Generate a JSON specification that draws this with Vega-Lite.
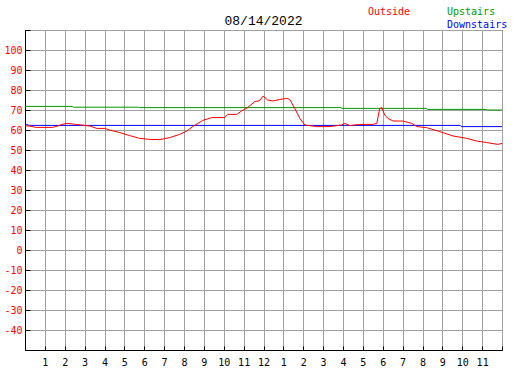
{
  "$schema": "https://vega.github.io/schema/vega-lite/v6.json",
  "width": 477,
  "height": 320,
  "autosize": {"type": "none"},
  "padding": {"left": 25, "top": 30, "right": 25, "bottom": 20},
  "background": "white",
  "title": {"text": "08/14/2022", "font": "Liberation Mono", "fontSize": 13, "fontWeight": "normal", "color": "black", "anchor": "middle", "baseline": "alphabetic", "offset": -31},
  "config": {
    "view": {"stroke": "black", "strokeWidth": 1},
    "axis": {"labelFont": "DejaVu Sans Mono", "labelFontSize": 10, "gridColor": "#a0a0a0", "gridOpacity": 1, "gridWidth": 1, "domainColor": "black", "tickColor": "black", "title": null, "labelFlush": false, "labelOverlap": false}
  },
  "datasets": {
    "indoor": [
      {"hour": 0, "temp": 71.8, "series": "Upstairs"},
      {"hour": 2.4, "temp": 71.8, "series": "Upstairs"},
      {"hour": 2.45, "temp": 71.4, "series": "Upstairs"},
      {"hour": 5.7, "temp": 71.4, "series": "Upstairs"},
      {"hour": 5.75, "temp": 71.2, "series": "Upstairs"},
      {"hour": 15.9, "temp": 71.2, "series": "Upstairs"},
      {"hour": 15.95, "temp": 70.8, "series": "Upstairs"},
      {"hour": 20.2, "temp": 70.8, "series": "Upstairs"},
      {"hour": 20.25, "temp": 70.3, "series": "Upstairs"},
      {"hour": 23.2, "temp": 70.3, "series": "Upstairs"},
      {"hour": 23.25, "temp": 70.0, "series": "Upstairs"},
      {"hour": 24, "temp": 70.0, "series": "Upstairs"},
      {"hour": 0, "temp": 62.3, "series": "Downstairs"},
      {"hour": 0.1, "temp": 62.8, "series": "Downstairs"},
      {"hour": 0.2, "temp": 62.3, "series": "Downstairs"},
      {"hour": 21.9, "temp": 62.3, "series": "Downstairs"},
      {"hour": 21.95, "temp": 61.7, "series": "Downstairs"},
      {"hour": 24, "temp": 61.7, "series": "Downstairs"}
    ],
    "outside": [
      {"hour": 0.0, "temp": 62.0, "series": "Outside"},
      {"hour": 0.24, "temp": 62.0, "series": "Outside"},
      {"hour": 0.54, "temp": 61.3, "series": "Outside"},
      {"hour": 1.39, "temp": 61.3, "series": "Outside"},
      {"hour": 1.65, "temp": 62.0, "series": "Outside"},
      {"hour": 1.85, "temp": 62.8, "series": "Outside"},
      {"hour": 2.15, "temp": 63.3, "series": "Outside"},
      {"hour": 2.55, "temp": 62.8, "series": "Outside"},
      {"hour": 3.26, "temp": 62.0, "series": "Outside"},
      {"hour": 3.61, "temp": 60.8, "series": "Outside"},
      {"hour": 4.01, "temp": 60.8, "series": "Outside"},
      {"hour": 4.26, "temp": 60.0, "series": "Outside"},
      {"hour": 4.77, "temp": 58.7, "series": "Outside"},
      {"hour": 5.27, "temp": 57.2, "series": "Outside"},
      {"hour": 5.77, "temp": 55.8, "series": "Outside"},
      {"hour": 6.28, "temp": 55.3, "series": "Outside"},
      {"hour": 6.78, "temp": 55.2, "series": "Outside"},
      {"hour": 7.28, "temp": 56.2, "series": "Outside"},
      {"hour": 7.78, "temp": 57.8, "series": "Outside"},
      {"hour": 8.14, "temp": 59.5, "series": "Outside"},
      {"hour": 8.44, "temp": 61.7, "series": "Outside"},
      {"hour": 8.94, "temp": 64.8, "series": "Outside"},
      {"hour": 9.4, "temp": 66.2, "series": "Outside"},
      {"hour": 10.05, "temp": 66.2, "series": "Outside"},
      {"hour": 10.2, "temp": 67.8, "series": "Outside"},
      {"hour": 10.65, "temp": 67.8, "series": "Outside"},
      {"hour": 10.9, "temp": 69.5, "series": "Outside"},
      {"hour": 11.2, "temp": 71.2, "series": "Outside"},
      {"hour": 11.56, "temp": 74.2, "series": "Outside"},
      {"hour": 11.81, "temp": 74.7, "series": "Outside"},
      {"hour": 11.98, "temp": 77.0, "series": "Outside"},
      {"hour": 12.21, "temp": 75.0, "series": "Outside"},
      {"hour": 12.47, "temp": 74.5, "series": "Outside"},
      {"hour": 12.82, "temp": 75.3, "series": "Outside"},
      {"hour": 13.17, "temp": 75.8, "series": "Outside"},
      {"hour": 13.32, "temp": 75.3, "series": "Outside"},
      {"hour": 13.57, "temp": 70.8, "series": "Outside"},
      {"hour": 13.83, "temp": 65.8, "series": "Outside"},
      {"hour": 14.08, "temp": 62.5, "series": "Outside"},
      {"hour": 14.68, "temp": 61.7, "series": "Outside"},
      {"hour": 15.33, "temp": 61.7, "series": "Outside"},
      {"hour": 15.93, "temp": 62.5, "series": "Outside"},
      {"hour": 16.09, "temp": 63.3, "series": "Outside"},
      {"hour": 16.34, "temp": 62.2, "series": "Outside"},
      {"hour": 16.84, "temp": 62.8, "series": "Outside"},
      {"hour": 17.5, "temp": 62.8, "series": "Outside"},
      {"hour": 17.7, "temp": 63.3, "series": "Outside"},
      {"hour": 17.85, "temp": 70.8, "series": "Outside"},
      {"hour": 17.95, "temp": 71.2, "series": "Outside"},
      {"hour": 18.1, "temp": 67.5, "series": "Outside"},
      {"hour": 18.26, "temp": 65.8, "series": "Outside"},
      {"hour": 18.52, "temp": 64.5, "series": "Outside"},
      {"hour": 19.0, "temp": 64.5, "series": "Outside"},
      {"hour": 19.46, "temp": 63.3, "series": "Outside"},
      {"hour": 19.71, "temp": 61.7, "series": "Outside"},
      {"hour": 20.2, "temp": 61.2, "series": "Outside"},
      {"hour": 20.87, "temp": 59.2, "series": "Outside"},
      {"hour": 21.54, "temp": 57.0, "series": "Outside"},
      {"hour": 22.23, "temp": 55.8, "series": "Outside"},
      {"hour": 22.73, "temp": 54.5, "series": "Outside"},
      {"hour": 23.23, "temp": 53.7, "series": "Outside"},
      {"hour": 23.79, "temp": 52.8, "series": "Outside"},
      {"hour": 24.0, "temp": 53.3, "series": "Outside"}
    ]
  },
  "encoding": {
    "x": {
      "field": "hour", "type": "quantitative",
      "scale": {"domain": [0, 24], "nice": false, "zero": false},
      "axis": {
        "values": [0,1,2,3,4,5,6,7,8,9,10,11,12,13,14,15,16,17,18,19,20,21,22,23,24],
        "labelExpr": "datum.value == 0 || datum.value == 24 ? '' : (datum.value > 12 ? datum.value - 12 : datum.value)",
        "grid": true, "tickSize": -4, "labelPadding": 16, "labelColor": "black", "labelBaseline": "middle", "labelAlign": "center"
      }
    },
    "y": {
      "field": "temp", "type": "quantitative",
      "scale": {"domain": [-50, 110], "nice": false, "zero": false},
      "axis": {
        "values": [-50,-40,-30,-20,-10,0,10,20,30,40,50,60,70,80,90,100,110],
        "labelExpr": "datum.value == 110 || datum.value == -50 ? '' : datum.value",
        "grid": true, "tickSize": -5, "labelPadding": 8, "labelColor": "#ff0000", "labelBaseline": "middle"
      }
    },
    "color": {
      "field": "series", "type": "nominal",
      "scale": {"domain": ["Outside", "Upstairs", " ", "Downstairs"], "range": ["#ff0000", "#009900", "#ffffff", "#0000ff"]},
      "legend": {
        "title": null, "orient": "none", "legendX": 333, "legendY": -23, "direction": "horizontal", "columns": 2,
        "columnPadding": 26, "rowPadding": 3, "symbolSize": 0, "symbolOpacity": 0, "symbolStrokeWidth": 0, "labelOffset": 0,
        "labelFont": "DejaVu Sans Mono", "labelFontSize": 10,
        "encode": {"labels": {"update": {"fill": {"scale": "color", "field": "value"}}}}
      }
    }
  },
  "layer": [
    {"data": {"name": "indoor"}, "mark": {"type": "line", "strokeWidth": 1, "clip": true}},
    {"data": {"name": "outside"}, "mark": {"type": "line", "strokeWidth": 1, "clip": true}}
  ]
}
